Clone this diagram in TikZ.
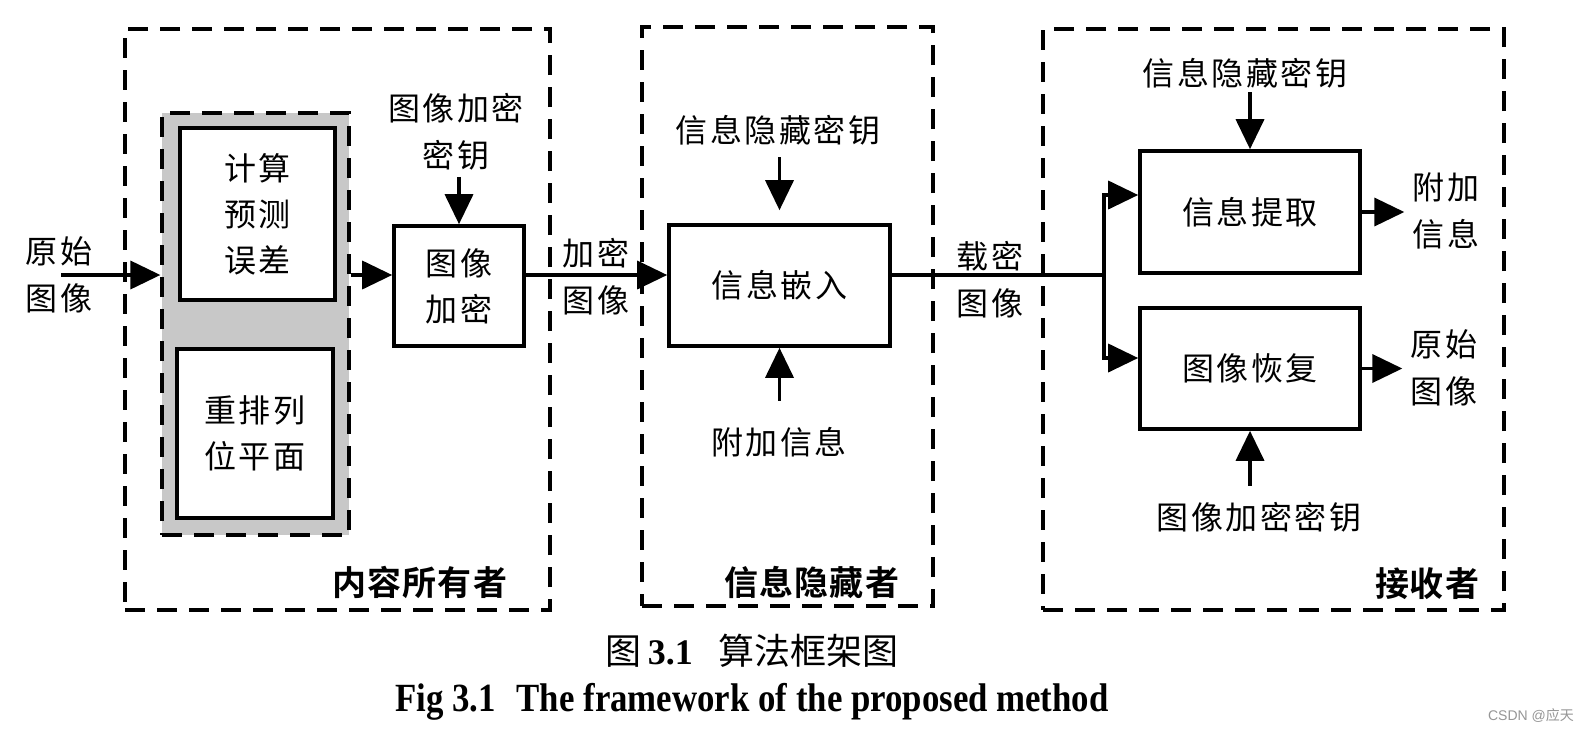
\documentclass[tikz,border=0pt]{standalone}
\usepackage{fontspec}
\usepackage{graphicx}
\setmainfont{Liberation Serif}
\newfontfamily\cjk[LetterSpace=8]{Noto Sans CJK SC}
\newfontfamily\cjkrole[BoldFont={Noto Sans CJK SC Bold},LetterSpace=3]{Noto Sans CJK SC}
\newfontfamily\cjkplain{Noto Sans CJK SC}
\newfontfamily\wmfont{Liberation Sans}
\usetikzlibrary{arrows.meta,calc}
\definecolor{grayfill}{RGB}{200,200,200}
\definecolor{wmgray}{RGB}{150,150,150}
\begin{document}
\begin{tikzpicture}[x=0.5pt,y=-0.5pt,
  lbl/.style={font=\cjk\fontsize{16}{23.5}\selectfont, align=center, inner sep=0pt},
  grp/.style={draw, line width=1.8pt, dash pattern=on 10pt off 6pt},
  box/.style={draw, line width=1.8pt, fill=white, inner sep=0pt, font=\cjk\fontsize{16}{23}\selectfont, align=center},
  role/.style={font=\cjkrole\bfseries\fontsize{17}{20}\selectfont, inner sep=0pt},
  arr/.style={line width=1.8pt, -{Triangle[length=15pt,width=14pt]}},
  ln/.style={line width=1.8pt}]
\useasboundingbox (0,0) rectangle (1583,729);
\fill[white] (0,0) rectangle (1583,729);

% group boxes
\node[grp, minimum width=212.5pt, minimum height=290.5pt] (owner) at (337.5,319.5) {};
\node[grp, minimum width=145.5pt, minimum height=289.5pt] (hider) at (787.5,316.5) {};
\node[grp, minimum width=230.5pt, minimum height=290.5pt] (recv) at (1273.5,319.5) {};
\node[role] (ownerlbl) at (420,582) {内容所有者};
\node[role] (hiderlbl) at (812,582) {信息隐藏者};
\node[role] (recvlbl) at (1427,584) {接收者};

% gray preprocessing block
\node[grp, line width=1.6pt, fill=grayfill, minimum width=93.5pt, minimum height=211pt] (gray) at (255.5,324) {};
\node[box, minimum width=77.5pt, minimum height=86pt] (calc) at (257.5,214) {计算\\预测\\误差};
\node[box, minimum width=78pt, minimum height=84.5pt] (rearr) at (255,433.5) {重排列\\位平面};

% process boxes
\node[box, minimum width=65pt, minimum height=60pt] (enc) at (459,286) {图像\\加密};
\node[box, minimum width=110.5pt, minimum height=60.5pt] (embed) at (779.5,285.5) {信息嵌入};
\node[box, minimum width=110pt, minimum height=61pt] (extract) at (1250,212) {信息提取};
\node[box, minimum width=110pt, minimum height=60.5pt] (recover) at (1250,368.5) {图像恢复};

% labels
\node[lbl] (orig) at (59,275) {原始\\图像};
\node[lbl] (ekey1) at (456,132) {图像加密\\密钥};
\node[lbl] (encimg) at (596,277) {加密\\图像};
\node[lbl] (hkey1) at (778,130) {信息隐藏密钥};
\node[lbl] (addinfo1) at (779,442) {附加信息};
\node[lbl] (stego) at (990,280) {载密\\图像};
\node[lbl] (hkey2) at (1245,73) {信息隐藏密钥};
\node[lbl] (ekey2) at (1259,517) {图像加密密钥};
\node[lbl] (addinfo2) at (1446,211) {附加\\信息};
\node[lbl] (orig2) at (1444,368) {原始\\图像};

% coordinates
\coordinate (src) at (61,275);
\coordinate (jn) at (1104,275);
\coordinate (jt) at (1104,195);
\coordinate (jb) at (1104,358);

% connectors
\draw[arr] (src) -- (gray.west |- src);
\draw[arr] (gray.east |- src) -- (enc.west |- src);
\draw[arr] (enc.east |- src) -- (embed.west |- src);
\draw[ln] (embed.east |- src) -- (jn);
\draw[ln, line cap=rect] (jt) -- (jb);
\draw[arr] (jt) -- (extract.west |- jt);
\draw[arr] (jb) -- (recover.west |- jb);

\draw[arr, shorten <=3pt] (ekey1.south -| enc.north) -- (enc.north);
\draw[arr, shorten <=6pt, shorten >=6.5pt] (hkey1.south -| embed.north) -- (embed.north);
\draw[arr, shorten <=13pt] (addinfo1.north -| embed.south) -- (embed.south);
\draw[arr, shorten <=2pt] (hkey2.south -| extract.north) -- (extract.north);
\draw[arr, shorten <=8pt] (ekey2.north -| recover.south) -- (recover.south);
\draw[arr, shorten >=4pt] (extract.east) -- (extract.east -| addinfo2.west);
\draw[arr, shorten >=4pt] (recover.east) -- (recover.east -| orig2.west);

% captions
\node (cap1) at (752,651) {\cjkplain\fontsize{18}{20}\selectfont 图\,{\rmfamily\bfseries 3.1}\hspace{0.7em}算法框架图};
\node (cap2) at (752,702) {\scalebox{0.87}[1]{\fontsize{20}{22}\selectfont\bfseries Fig 3.1\hspace{0.6em}The framework of the proposed method}};
\node[text=wmgray, inner sep=0pt] (wmk) at (1531,716) {\wmfont\fontsize{7}{8}\selectfont CSDN @{\cjkplain 应天}};
\end{tikzpicture}
\end{document}
